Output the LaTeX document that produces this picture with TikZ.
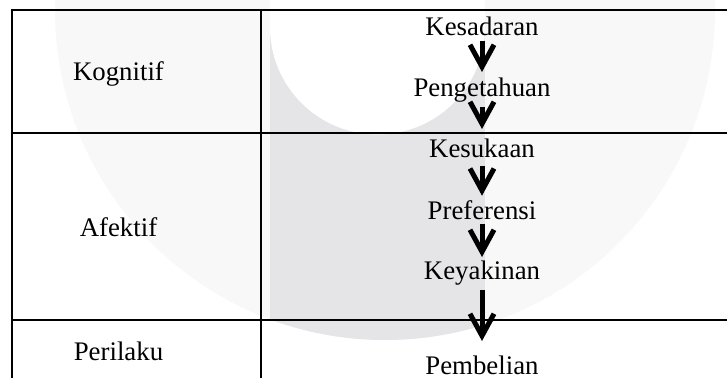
\documentclass[tikz,border=0pt]{standalone}
\usepackage{fontspec}
\setmainfont{Liberation Serif}
\usetikzlibrary{arrows.meta, positioning}
\definecolor{wmlight}{RGB}{248,248,248}
\definecolor{wmdark}{RGB}{229,229,232}

\begin{document}
\begin{tikzpicture}[
    x=0.5pt, y=-0.5pt,
    rule/.style={line width=1.35pt},
    lbl/.style={font=\fontsize{13.4}{16}\selectfont, inner sep=0pt, anchor=base},
    arr/.style={-{Straight Barb[length=11pt, width=12pt]}, line width=2.5pt}
  ]
  \useasboundingbox (0,0) rectangle (727,378);

  % faint logo in the background
  \begin{scope}
    \clip (0,0) rectangle (727,378);
    \fill[wmlight] (385,10) circle[radius=165pt];
    \begin{scope}
      \clip (385,10) circle[radius=165pt];
      \fill[wmdark] (270,0) rectangle (485,400);
    \end{scope}
    \fill[white] (270,0) rectangle (485,25);
    \fill[white] (377.5,27) circle[radius=53.75pt];
  \end{scope}

  % table
  \draw[rule] (727,10) -- (12,10) -- (12,378);
  \draw[rule] (261,10) -- (261,378);
  \draw[rule] (12,133) -- (727,133);
  \draw[rule] (12,320) -- (727,320);

  \node[lbl] (kognitif) at (118.5,81)  {Kognitif};
  \node[lbl] (afektif)  at (118.5,237) {Afektif};
  \node[lbl] (perilaku) at (118.5,361) {Perilaku};

  \node[lbl] (kesadaran)   at (482,35.5) {Kesadaran};
  \node[lbl] (pengetahuan) at (482,97)   {Pengetahuan};
  \node[lbl] (kesukaan)    at (482,158)  {Kesukaan};
  \node[lbl] (preferensi)  at (482,220)  {Preferensi};
  \node[lbl] (keyakinan)   at (482,280)  {Keyakinan};
  \node[lbl] (pembelian)   at (482,375)  {Pembelian};

  \draw[arr] ([yshift=-2.25pt]kesadaran.south) -- ([yshift=3pt]pengetahuan.north);
  \draw[arr] ([yshift=-2pt]pengetahuan.south) -- ([yshift=5pt]kesukaan.north);
  \draw[arr] ([yshift=-3.5pt]kesukaan.south) -- ([yshift=2.5pt]preferensi.north);
  \draw[arr] ([yshift=-1.5pt]preferensi.south) -- ([yshift=2pt]keyakinan.north);
  \draw[arr] ([yshift=-2pt]keyakinan.south) -- ([yshift=7.5pt]pembelian.north);
\end{tikzpicture}
\end{document}
